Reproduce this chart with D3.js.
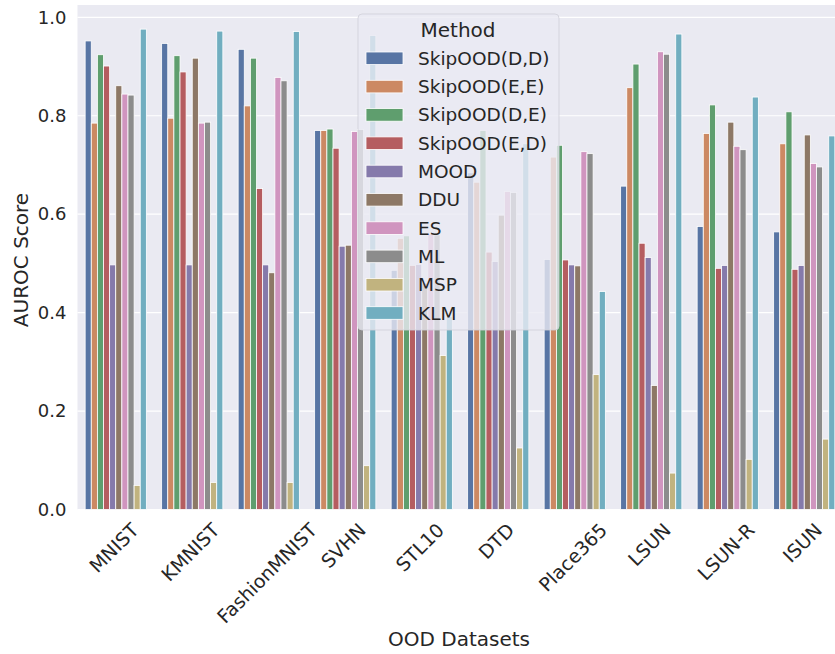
<!DOCTYPE html>
<html>
<head>
<meta charset="utf-8">
<script src="https://cdn.jsdelivr.net/npm/d3@7"></script>
<style>
  body { margin: 0; background: #fff; }
  text { font-family: "DejaVu Sans", sans-serif; fill: #262626; }
</style>
</head>
<body>
<svg id="chart" width="835" height="654"></svg>
<script>
// datasets on the x axis
const datasets = ["MNIST", "KMNIST", "FashionMNIST", "SVHN", "STL10", "DTD", "Place365", "LSUN", "LSUN-R", "ISUN"];
const methods = ["SkipOOD(D,D)", "SkipOOD(E,E)", "SkipOOD(D,E)", "SkipOOD(E,D)", "MOOD", "DDU", "ES", "ML", "MSP", "KLM"];
const colors = ["#5875a4", "#cc8963", "#5f9e6e", "#b55d60", "#857aab", "#8d7866", "#d095bf", "#8c8c8c", "#c1b37f", "#71aec0"];

// AUROC per method, one value per dataset
const skipDD = [0.952, 0.947, 0.935, 0.770, 0.486, 0.684, 0.508, 0.657, 0.575, 0.564];
const skipEE = [0.785, 0.795, 0.820, 0.770, 0.551, 0.665, 0.716, 0.857, 0.764, 0.743];
const skipDE = [0.924, 0.922, 0.917, 0.773, 0.556, 0.770, 0.740, 0.905, 0.822, 0.808];
const skipED = [0.901, 0.889, 0.652, 0.734, 0.496, 0.523, 0.507, 0.541, 0.490, 0.488];
const mood   = [0.497, 0.497, 0.497, 0.535, 0.498, 0.504, 0.497, 0.512, 0.496, 0.496];
const ddu    = [0.861, 0.917, 0.481, 0.537, 0.460, 0.598, 0.495, 0.252, 0.787, 0.761];
const es     = [0.844, 0.785, 0.878, 0.768, 0.560, 0.646, 0.727, 0.930, 0.738, 0.703];
const ml     = [0.842, 0.787, 0.871, 0.772, 0.558, 0.644, 0.723, 0.925, 0.731, 0.696];
const msp    = [0.049, 0.055, 0.055, 0.089, 0.313, 0.125, 0.274, 0.074, 0.102, 0.143];
const klm    = [0.976, 0.972, 0.971, 0.963, 0.392, 0.743, 0.443, 0.966, 0.838, 0.759];
const series = [skipDD, skipEE, skipDE, skipED, mood, ddu, es, ml, msp, klm];

const yTicks = [0.0, 0.2, 0.4, 0.6, 0.8, 1.0];

const svg = d3.select("#chart");
const margin = {left: 77.5, top: 5, bottom: 509.5};
const plotW = 765; // runs past the right edge, like the original crop

const x0 = d3.scaleBand().domain(datasets).range([margin.left, margin.left + plotW]).padding(0);
const x1 = d3.scaleBand().domain(methods).range([x0.bandwidth() * 0.1, x0.bandwidth() * 0.9]);
const y = d3.scaleLinear().domain([0, 1.025]).range([margin.bottom, margin.top]);

// background
svg.append("rect")
  .attr("x", margin.left).attr("y", margin.top)
  .attr("width", plotW).attr("height", margin.bottom - margin.top)
  .attr("fill", "#eaeaf2");

// grid
svg.append("g").selectAll("line").data(yTicks).join("line")
  .attr("x1", margin.left).attr("x2", margin.left + plotW)
  .attr("y1", d => y(d)).attr("y2", d => y(d))
  .attr("stroke", "#fff").attr("stroke-width", 1.2);

// bars
const groups = svg.append("g").selectAll("g").data(datasets).join("g")
  .attr("transform", d => "translate(" + x0(d) + ",0)");
groups.selectAll("rect")
  .data((d, i) => methods.map((m, j) => ({m: m, j: j, v: series[j][i]})))
  .join("rect")
  .attr("x", d => x1(d.m))
  .attr("y", d => y(d.v))
  .attr("width", x1.bandwidth())
  .attr("height", d => y(0) - y(d.v))
  .attr("fill", d => colors[d.j])
  .attr("stroke", "#fff").attr("stroke-width", 0.8);

// y axis labels
const yAxis = svg.append("g")
  .attr("transform", "translate(" + margin.left + ",0)")
  .call(d3.axisLeft(y).tickValues(yTicks).tickFormat(d3.format(".1f")).tickSize(0).tickPadding(11));
yAxis.select(".domain").remove();
yAxis.selectAll("text").style("font-size", "18px").attr("fill", "#262626")
  .style("font-family", "DejaVu Sans");

// x tick labels, rotated 45 and centred under the tick
const xl = svg.append("g").selectAll("text").data(datasets).join("text")
  .text(d => d)
  .style("font-size", "19px")
  .attr("text-anchor", "middle")
  .attr("dominant-baseline", "central");
xl.each(function(d) {
  const L = this.getComputedTextLength();
  const h = 14;
  const half = (L + h) * 0.7071 / 2;
  const cx = x0(d) + x0.bandwidth() / 2 - 2;
  const cy = margin.bottom + 12 + half;
  d3.select(this).attr("transform", "translate(" + cx + "," + cy + ") rotate(-45)");
});

// axis titles
svg.append("text").attr("x", 459).attr("y", 646)
  .attr("text-anchor", "middle").style("font-size", "20px").text("OOD Datasets");
svg.append("text").attr("transform", "translate(28,260) rotate(-90)")
  .attr("text-anchor", "middle").style("font-size", "20px").text("AUROC Score");

// legend
const lg = svg.append("g");
lg.append("rect")
  .attr("x", 358).attr("y", 14).attr("width", 201).attr("height", 316).attr("rx", 4)
  .attr("fill", "#eaeaf2").attr("fill-opacity", 0.8)
  .attr("stroke", "#d0d0d8").attr("stroke-opacity", 0.8);
lg.append("text").attr("x", 458).attr("y", 37)
  .attr("text-anchor", "middle").style("font-size", "20px").text("Method");
const rows = lg.selectAll("g.row").data(methods).join("g")
  .attr("class", "row")
  .attr("transform", (d, i) => "translate(0," + (58.3 + i * 28.3) + ")");
rows.append("rect")
  .attr("x", 366).attr("y", -6.3).attr("width", 37).attr("height", 12.6)
  .attr("fill", (d, i) => colors[i]).attr("stroke", "#fff").attr("stroke-width", 0.8);
rows.append("text")
  .attr("x", 418).attr("y", 0).attr("dominant-baseline", "central")
  .style("font-size", "18.5px").text(d => d);
</script>
</body>
</html>
